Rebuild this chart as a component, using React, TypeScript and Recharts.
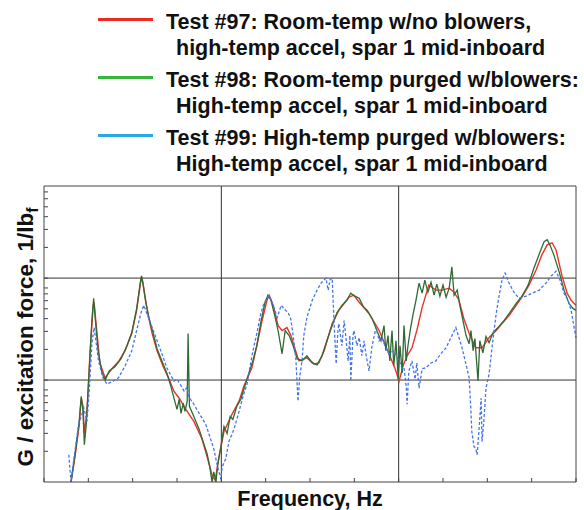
import { LineChart, Line, XAxis, YAxis, ReferenceLine } from "recharts";

// [frequency, G / excitation force] pairs
const test97: [number, number][] = [
  [6.1, 0.001], [7.0, 0.00177], [7.9, 0.0035], [8.4, 0.00663], [8.8, 0.00553], [9.1, 0.00299],
  [9.7, 0.00493], [10.4, 0.0194], [11.1, 0.054], [11.3, 0.0579], [12.0, 0.0273], [12.6, 0.0147],
  [13.8, 0.0105], [15.3, 0.0129], [16.9, 0.0154], [18.3, 0.0194], [19.8, 0.0286], [20.9, 0.0482],
  [21.7, 0.0853], [22.0, 0.102], [22.3, 0.0913], [22.8, 0.0649], [23.6, 0.0411], [24.4, 0.0286],
  [25.5, 0.0194], [26.8, 0.0138], [28.1, 0.0105], [29.3, 0.00778], [30.5, 0.00663], [32.0, 0.00516],
  [33.8, 0.00393], [35.6, 0.00267], [36.8, 0.00177], [37.9, 0.00117], [38.6, 0.00104], [39.5, 0.00177],
  [40.6, 0.00313], [42.4, 0.00461], [44.0, 0.0062], [45.1, 0.00872], [46.9, 0.0132], [48.0, 0.0217],
  [49.2, 0.0384], [50.3, 0.0606], [50.8, 0.0679], [51.7, 0.054], [52.8, 0.0342], [53.7, 0.0306],
  [54.8, 0.0327], [55.7, 0.0273], [56.6, 0.0203], [57.5, 0.0154], [59.3, 0.0165], [60.9, 0.0144],
  [62.0, 0.0147], [63.2, 0.0194], [65.0, 0.0358], [66.5, 0.0482], [68.8, 0.0649], [69.9, 0.0679],
  [71.1, 0.0579], [73.3, 0.045], [75.6, 0.0306], [77.8, 0.0181], [79.2, 0.0129], [80.1, 0.00977],
  [81.0, 0.0138], [81.9, 0.0173], [83.0, 0.0207], [84.1, 0.0306], [85.3, 0.0516], [86.8, 0.0853],
  [88.4, 0.0761], [89.8, 0.0761], [91.4, 0.0796], [92.5, 0.0727], [93.6, 0.0606], [94.7, 0.0402],
  [95.9, 0.0286], [97.4, 0.0207], [98.8, 0.0207], [100.4, 0.0261], [102.0, 0.0306], [103.3, 0.0358],
  [104.9, 0.043], [106.5, 0.054], [107.8, 0.0649], [109.4, 0.0853], [111.0, 0.12], [112.3, 0.169],
  [113.5, 0.212], [114.6, 0.222], [115.5, 0.189], [116.8, 0.107], [118.0, 0.0711], [118.9, 0.0606],
  [120.0, 0.054],
];

const test98: [number, number][] = [
  [6.1, 0.001], [7.0, 0.00189], [7.9, 0.00375], [8.4, 0.00694], [8.8, 0.00493], [9.1, 0.00232],
  [9.5, 0.0035], [10.2, 0.0123], [10.8, 0.0384], [11.2, 0.0634], [11.5, 0.043], [12.2, 0.0194],
  [13.1, 0.0117], [13.8, 0.01], [14.7, 0.0123], [16.0, 0.0135], [17.4, 0.0162], [18.7, 0.0217],
  [19.8, 0.0292], [20.9, 0.0504], [21.7, 0.0893], [22.0, 0.105], [22.3, 0.0893], [23.0, 0.0566],
  [23.7, 0.0402], [24.6, 0.0292], [25.5, 0.0203], [26.6, 0.0154], [27.7, 0.0117], [28.6, 0.00872],
  [29.5, 0.0062], [30.0, 0.00516], [30.5, 0.00648], [30.9, 0.00471], [31.4, 0.00592], [31.8, 0.00493],
  [32.3, 0.0062], [32.5, 0.0286], [32.8, 0.00553], [33.8, 0.0044], [35.0, 0.00328], [35.9, 0.00249],
  [36.8, 0.00189], [37.4, 0.00141], [37.9, 0.001], [38.3, 0.00126], [38.8, 0.001], [39.2, 0.00151],
  [39.9, 0.00222], [40.6, 0.0035], [41.3, 0.00299], [42.0, 0.0044], [42.6, 0.00411], [43.5, 0.00553],
  [44.4, 0.00648], [45.3, 0.00872], [46.2, 0.0117], [47.1, 0.0154], [48.0, 0.0217], [48.9, 0.0367],
  [49.8, 0.0566], [50.5, 0.0679], [51.2, 0.0606], [52.2, 0.0402], [52.8, 0.0306], [53.7, 0.0181],
  [54.4, 0.0306], [55.3, 0.0273], [56.2, 0.0217], [57.1, 0.0162], [58.2, 0.0154], [59.3, 0.0173],
  [60.5, 0.0147], [61.6, 0.0141], [62.7, 0.0173], [63.8, 0.0243], [65.0, 0.0342], [66.1, 0.046],
  [67.2, 0.054], [68.3, 0.0606], [69.2, 0.0711], [70.1, 0.0664], [71.1, 0.0634], [72.0, 0.0528],
  [72.9, 0.0482], [74.0, 0.0402], [75.1, 0.0306], [76.0, 0.0243], [76.7, 0.0342], [77.1, 0.0194],
  [77.6, 0.0273], [78.0, 0.0154], [78.5, 0.0306], [78.9, 0.0138], [79.4, 0.0243], [79.9, 0.0102],
  [80.3, 0.0217], [80.8, 0.0117], [81.2, 0.0342], [81.7, 0.0154], [82.1, 0.0217], [82.6, 0.0306],
  [83.2, 0.043], [83.9, 0.0606], [84.6, 0.0893], [85.3, 0.0711], [85.9, 0.0956], [86.6, 0.0727],
  [87.3, 0.0913], [88.0, 0.0679], [88.6, 0.0873], [89.3, 0.0664], [90.0, 0.0853], [90.7, 0.0649],
  [91.4, 0.0796], [92.0, 0.129], [92.5, 0.0679], [93.2, 0.0761], [93.8, 0.054], [94.5, 0.0384],
  [95.2, 0.0273], [95.9, 0.0227], [96.3, 0.0306], [96.8, 0.0194], [97.2, 0.0255], [97.9, 0.00977],
  [98.3, 0.0243], [99.0, 0.0185], [99.7, 0.0267], [100.4, 0.0232], [101.3, 0.0292], [102.4, 0.0327],
  [103.8, 0.0384], [105.1, 0.046], [106.5, 0.0566], [107.8, 0.0664], [109.2, 0.0853], [110.5, 0.125],
  [111.9, 0.181], [112.8, 0.227], [113.5, 0.238], [114.1, 0.212], [115.0, 0.169], [116.2, 0.115],
  [117.3, 0.0761], [118.4, 0.0566], [119.3, 0.0504], [120.0, 0.0482],
];

const test99: [number, number][] = [
  [5.6, 0.00185], [5.9, 0.00126], [6.1, 0.001], [6.8, 0.00177], [7.8, 0.00367], [9.0, 0.00528],
  [9.7, 0.00393], [10.2, 0.00778], [10.8, 0.0227], [11.3, 0.0327], [11.7, 0.0243], [12.3, 0.0154],
  [13.3, 0.0105], [14.2, 0.00913], [15.6, 0.00977], [16.8, 0.0105], [18.3, 0.0138], [19.8, 0.0194],
  [20.9, 0.0306], [21.9, 0.046], [22.5, 0.054], [23.2, 0.045], [24.4, 0.0327], [25.5, 0.0243],
  [26.6, 0.0181], [27.7, 0.0132], [29.3, 0.00977], [30.0, 0.0102], [30.7, 0.00913], [31.6, 0.00778],
  [32.3, 0.00852], [32.7, 0.00678], [33.8, 0.00579], [35.0, 0.00471], [36.5, 0.00367], [37.4, 0.00279],
  [38.3, 0.00212], [39.0, 0.00151], [39.9, 0.00107], [40.2, 0.00141], [41.0, 0.00169], [41.7, 0.00249],
  [42.9, 0.00334], [44.0, 0.00493], [44.9, 0.00694], [45.8, 0.00913], [46.9, 0.0173], [48.0, 0.0286],
  [48.9, 0.045], [49.6, 0.0566], [50.8, 0.0679], [51.7, 0.054], [52.6, 0.0411], [53.5, 0.054],
  [54.1, 0.0504], [55.0, 0.046], [55.6, 0.0411], [56.2, 0.0273], [56.8, 0.0165], [57.3, 0.0062],
  [57.7, 0.011], [58.2, 0.0154], [58.6, 0.0273], [59.3, 0.0411], [60.5, 0.0606], [61.6, 0.0761],
  [62.5, 0.0893], [63.6, 0.1], [64.1, 0.0761], [64.5, 0.0956], [65.0, 0.1], [65.4, 0.0384],
  [65.9, 0.0144], [66.3, 0.0306], [66.5, 0.0358], [67.2, 0.0217], [67.7, 0.0384], [68.1, 0.0261],
  [68.6, 0.0154], [69.0, 0.0273], [69.2, 0.00977], [69.7, 0.0273], [69.9, 0.0306], [70.6, 0.0217],
  [71.1, 0.0261], [71.7, 0.0173], [72.2, 0.0243], [72.6, 0.0181], [73.3, 0.0123], [74.0, 0.0217],
  [74.9, 0.0327], [75.6, 0.0243], [76.2, 0.0261], [76.9, 0.0217], [77.8, 0.0181], [78.9, 0.0194],
  [80.1, 0.0154], [80.8, 0.0129], [81.2, 0.0132], [81.7, 0.00872], [81.9, 0.00579], [82.3, 0.0123],
  [83.0, 0.0154], [83.7, 0.0102], [84.1, 0.0147], [84.6, 0.00833], [85.3, 0.0129], [86.2, 0.0132],
  [87.3, 0.0147], [88.4, 0.0154], [89.5, 0.0181], [90.7, 0.0207], [91.8, 0.0261], [92.9, 0.0327],
  [93.6, 0.0261], [94.3, 0.0207], [95.0, 0.0154], [95.9, 0.0105], [96.3, 0.00493], [96.5, 0.00313],
  [97.0, 0.00222], [97.4, 0.00212], [97.7, 0.00185], [98.1, 0.00313], [98.6, 0.00663], [98.8, 0.00249],
  [99.2, 0.00393], [99.7, 0.00833], [100.4, 0.0115], [101.1, 0.0217], [102.0, 0.045], [102.6, 0.0649],
  [103.3, 0.0956], [104.0, 0.112], [104.9, 0.0893], [106.0, 0.0727], [107.1, 0.0634], [108.7, 0.0664],
  [110.1, 0.0711], [111.7, 0.0761], [113.2, 0.0893], [114.4, 0.105], [115.5, 0.117], [116.4, 0.0956],
  [117.3, 0.0711], [118.2, 0.0606], [118.9, 0.0482], [119.5, 0.0342], [120.0, 0.0261],
];

const freqTicks = [0, 10, 20, 30, 40, 50, 60, 70, 80, 90, 100, 110, 120];
const gainTicks = [
  0.002, 0.003, 0.004, 0.005, 0.006, 0.007, 0.008, 0.009, 0.01,
  0.02, 0.03, 0.04, 0.05, 0.06, 0.07, 0.08, 0.09, 0.1,
  0.2, 0.3, 0.4, 0.5, 0.6, 0.7,
];
const freqGrid = [40, 80];
const gainGrid = [0.01, 0.1];

const legendItems = [
  { color: "#ee2a24", lines: ["Test #97: Room-temp w/no blowers,", "high-temp accel, spar 1 mid-inboard"] },
  { color: "#38b53c", lines: ["Test #98: Room-temp purged w/blowers:", "High-temp accel, spar 1 mid-inboard"] },
  { color: "#2aa8e6", lines: ["Test #99: High-temp purged w/blowers:", "High-temp accel, spar 1 mid-inboard"] },
];

const toRows = (pts: [number, number][]) => pts.map(([f, g]) => ({ f, g }));
const blank = () => "";

const FONT = '"Liberation Sans", Arial, Helvetica, sans-serif';
const FRAME = "#444";

export default function App() {
  return (
    <div style={{ position: "absolute", left: 0, top: 0, width: 584, height: 510, background: "#fff" }}>
      <LineChart width={584} height={510} margin={{ top: 186, right: 7, bottom: 28, left: 44 }}>
        <XAxis
          xAxisId="b"
          type="number"
          dataKey="f"
          domain={[0, 120]}
          ticks={freqTicks}
          orientation="bottom"
          height={1}
          mirror
          tickFormatter={blank}
          tickSize={4}
          stroke={FRAME}
        />
        <XAxis
          xAxisId="t"
          type="number"
          dataKey="f"
          domain={[0, 120]}
          ticks={freqTicks}
          orientation="top"
          height={1}
          mirror
          tickFormatter={blank}
          tickSize={4}
          stroke={FRAME}
        />
        <YAxis
          yAxisId="l"
          type="number"
          dataKey="g"
          scale="log"
          domain={[0.001, 0.8]}
          allowDataOverflow
          ticks={gainTicks}
          width={1}
          mirror
          tickFormatter={blank}
          tickSize={4}
          stroke={FRAME}
        />
        <YAxis
          yAxisId="r"
          orientation="right"
          type="number"
          scale="log"
          domain={[0.001, 0.8]}
          allowDataOverflow
          width={1}
          tick={false}
          tickLine={false}
          stroke={FRAME}
        />
        {freqGrid.map((f) => (
          <ReferenceLine key={f} x={f} xAxisId="b" yAxisId="l" stroke="#333" strokeWidth={1} />
        ))}
        {gainGrid.map((g) => (
          <ReferenceLine key={g} y={g} xAxisId="b" yAxisId="l" stroke="#333" strokeWidth={1} />
        ))}
        <Line
          data={toRows(test97)}
          xAxisId="b"
          yAxisId="l"
          dataKey="g"
          type="linear"
          stroke="#e5352c"
          strokeWidth={1.4}
          dot={false}
          isAnimationActive={false}
        />
        <Line
          data={toRows(test98)}
          xAxisId="b"
          yAxisId="l"
          dataKey="g"
          type="linear"
          stroke="#2f6a33"
          strokeWidth={1.3}
          dot={false}
          isAnimationActive={false}
        />
        <Line
          data={toRows(test99)}
          xAxisId="b"
          yAxisId="l"
          dataKey="g"
          type="linear"
          stroke="#4575ea"
          strokeWidth={1.3}
          strokeDasharray="3 2"
          dot={false}
          isAnimationActive={false}
        />
      </LineChart>
      <svg
        width={584}
        height={510}
        style={{ position: "absolute", left: 0, top: 0, pointerEvents: "none" }}
        fontFamily={FONT}
        fontWeight="bold"
        fill="#111"
      >
        {legendItems.map((item, i) => (
          <g key={i} transform={`translate(0, ${i * 58})`}>
            <line x1={98} x2={153} y1={19.5} y2={19.5} stroke={item.color} strokeWidth={3} />
            <text x={166} y={29} fontSize={21.5}>
              {item.lines[0]}
            </text>
            <text x={176} y={55} fontSize={21.5}>
              {item.lines[1]}
            </text>
          </g>
        ))}
        <text x={310} y={506} fontSize={21.5} textAnchor="middle">
          Frequency, Hz
        </text>
        <text x={33} y={337} fontSize={22.5} textAnchor="middle" transform="rotate(-90, 33, 337)">
          G / excitation force, 1/lb
          <tspan fontSize={16} dy={5}>
            f
          </tspan>
        </text>
      </svg>
    </div>
  );
}
